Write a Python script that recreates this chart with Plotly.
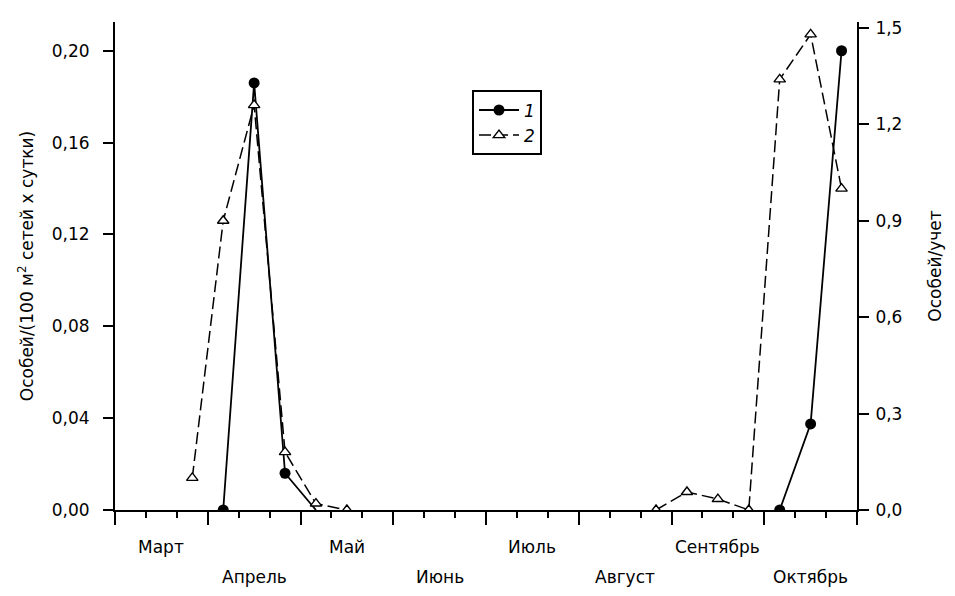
import plotly.graph_objects as go

# x is counted in ten-day periods (decades) from 1 March; 3 decades per month
months = ["Март", "Апрель", "Май", "Июнь", "Июль", "Август", "Сентябрь", "Октябрь"]

# series 1: individuals / (100 m2 of nets x day), left axis
x1 = [3.5, 4.5, 5.5, 6.5, None, 21.5, 22.5, 23.5]
y1 = [0.0, 0.186, 0.016, 0.0, None, 0.0, 0.0375, 0.200]

# series 2: individuals per survey, right axis
x2 = [2.5, 3.5, 4.5, 5.5, 6.5, 7.5, None, 17.5, 18.5, 19.5, 20.5, 21.5, 22.5, 23.5]
y2 = [0.10, 0.90, 1.26, 0.18, 0.02, 0.0, None, 0.0, 0.056, 0.034, 0.0, 1.34, 1.48, 1.00]

left_ticks = [0.0, 0.04, 0.08, 0.12, 0.16, 0.20]
left_labels = ["0,00", "0,04", "0,08", "0,12", "0,16", "0,20"]
right_ticks = [0.0, 0.3, 0.6, 0.9, 1.2, 1.5]
right_labels = ["0,0", "0,3", "0,6", "0,9", "1,2", "1,5"]

FONT = dict(family="DejaVu Sans", size=17, color="black")
OFF = 8  # the page body margin shifts the figure by 8px
W, H = 955 - OFF, 596 - OFF
ML, MR, MT, MB = 115 - OFF, 98, 18 - OFF, 86
plot_w = W - ML - MR
plot_h = H - MT - MB
bottom_px = OFF + H - MB  # window y of the x axis

fig = go.Figure()

fig.add_trace(go.Scatter(
    x=x1, y=y1, name="<i>1</i>",
    mode="lines+markers",
    line=dict(color="black", width=1.8),
    # the point where the spring curve returns to zero has no marker
    marker=dict(symbol="circle", size=11,
                color=["black", "black", "black", "rgba(0,0,0,0)",
                       "black", "black", "black", "black"]),
    yaxis="y",
))

fig.add_trace(go.Scatter(
    x=x2, y=y2, name="<i>2</i>",
    mode="lines+markers",
    line=dict(color="black", width=1.5, dash="12px,5px"),
    marker=dict(symbol="triangle-up", color="white", size=10,
                line=dict(color="black", width=1.4)),
    yaxis="y2",
))

# month names in two staggered rows under the axis
for i, m in enumerate(months):
    row_px = 547 if i % 2 == 0 else 578
    fig.add_annotation(
        x=3 * i + 1.5, xref="x",
        y=(bottom_px - row_px) / plot_h, yref="paper",
        text=m, showarrow=False, yanchor="middle", xanchor="center",
        font=FONT,
    )

axis_common = dict(
    showgrid=False, zeroline=False,
    showline=True, linecolor="black", linewidth=2,
    ticks="outside", ticklen=10, tickwidth=2, tickcolor="black",
    tickfont=FONT,
)

fig.update_layout(
    width=W, height=H,
    margin=dict(l=ML, r=MR, t=MT, b=MB),
    paper_bgcolor="white", plot_bgcolor="white",
    font=FONT,
    showlegend=True,
    legend=dict(
        x=(472 - OFF - ML) / plot_w, y=(bottom_px - 87) / plot_h,
        xanchor="left", yanchor="top",
        bordercolor="black", borderwidth=2, bgcolor="white",
        font=FONT, tracegroupgap=0, itemwidth=40,
    ),
    xaxis=dict(
        range=[0, 24],
        tickmode="linear", tick0=0, dtick=3,
        showticklabels=False,
        showgrid=False, zeroline=False,
        showline=True, linecolor="black", linewidth=2,
        ticks="outside", ticklen=13, tickwidth=2, tickcolor="black",
        minor=dict(tickmode="linear", tick0=0, dtick=1, ticks="outside",
                   ticklen=6, tickwidth=2, tickcolor="black", showgrid=False),
    ),
    yaxis=dict(
        range=[0, 0.2 * plot_h / 463],
        tickvals=left_ticks, ticktext=left_labels,
        ticklabelstandoff=10,
        title=dict(text="Особей/(100 м<sup>2</sup> сетей х сутки)", font=FONT, standoff=14),
        **axis_common,
    ),
    yaxis2=dict(
        range=[0, 1.5 * plot_h / 486],
        overlaying="y", side="right",
        tickvals=right_ticks, ticktext=right_labels,
        ticklabelstandoff=3,
        title=dict(text="Особей/учет", font=FONT, standoff=28),
        **axis_common,
    ),
)

fig.write_html("out.html")
